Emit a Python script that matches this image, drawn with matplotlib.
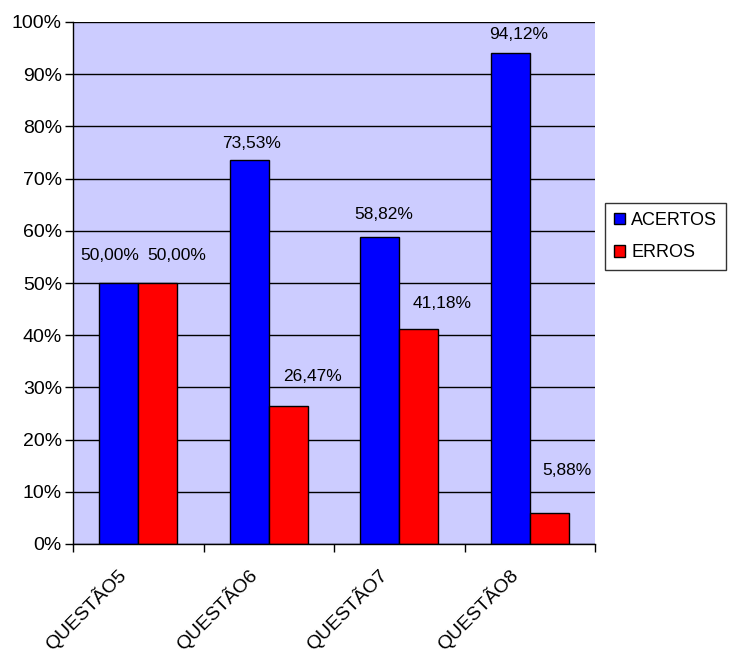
import numpy as np
import matplotlib
matplotlib.use("Agg")
import matplotlib.pyplot as plt
from matplotlib.ticker import FixedLocator, PercentFormatter

plt.rcParams["font.family"] = ["Liberation Sans", "DejaVu Sans"]

categories = ["QUESTÃO5", "QUESTÃO6", "QUESTÃO7", "QUESTÃO8"]
acertos = [50.00, 73.53, 58.82, 94.12]
erros = [50.00, 26.47, 41.18, 5.88]

# label offsets from each bar top, in pixels (dx, dy)
off_acertos = [(-9, 28), (2, 17), (4, 22), (8, 18)]
off_erros = [(19, 28), (24, 29), (23, 26), (18, 43)]

fig = plt.figure(figsize=(7.35, 6.58), dpi=100)
ax = fig.add_axes([73 / 735, 1 - 544 / 658, (595 - 73) / 735, (544 - 22) / 658])
ax.set_facecolor("#CCCCFF")

x = np.arange(len(categories))
w = 0.3
b1 = ax.bar(x - w / 2, acertos, w, color="#0000FF", edgecolor="black", linewidth=1, label="ACERTOS", zorder=3)
b2 = ax.bar(x + w / 2, erros, w, color="#FF0000", edgecolor="black", linewidth=1, label="ERROS", zorder=3)

def fmt(v):
    return ("%.2f%%" % v).replace(".", ",")

for xi, v, o in zip(x - w / 2, acertos, off_acertos):
    ax.annotate(fmt(v), (xi, v), xytext=o, textcoords="offset pixels",
                ha="center", va="center", fontsize=12.5)
for xi, v, o in zip(x + w / 2, erros, off_erros):
    ax.annotate(fmt(v), (xi, v), xytext=o, textcoords="offset pixels",
                ha="center", va="center", fontsize=12.5)

ax.set_xlim(-0.5, len(categories) - 0.5)
ax.set_ylim(0, 100)
ax.yaxis.set_major_locator(FixedLocator(np.arange(0, 101, 10)))
ax.yaxis.set_major_formatter(PercentFormatter(decimals=0))
ax.grid(axis="y", color="black", linewidth=1, zorder=1)
ax.set_axisbelow(True)

# ticks sit on the category boundaries, names go under the centers
ax.xaxis.set_major_locator(FixedLocator(np.arange(-0.5, len(categories), 1)))
ax.xaxis.set_major_formatter(plt.NullFormatter())
for xi, name in zip(x, categories):
    ax.annotate(name, (xi, 0), xycoords=("data", "axes fraction"), xytext=(-22, -21),
                textcoords="offset pixels", rotation=45, ha="right", va="top",
                rotation_mode="anchor", fontsize=14)
ax.tick_params(axis="both", which="major", length=6, width=1, direction="out", labelsize=14)
ax.tick_params(axis="y", pad=2)

for s in ["top", "right"]:
    ax.spines[s].set_visible(False)
for s in ["left", "bottom"]:
    ax.spines[s].set_linewidth(1)
    ax.spines[s].set_zorder(4)

leg = fig.legend(handles=[b1, b2], loc="upper left", bbox_to_anchor=(605 / 735, 1 - 203 / 658),
                 frameon=True, fancybox=False, edgecolor="black", fontsize=13,
                 handlelength=0.6, handleheight=0.6, handletextpad=0.35, borderpad=0.5,
                 borderaxespad=0, labelspacing=0.85)
leg.get_frame().set_linewidth(1)

fig.savefig("out.png", dpi=100)
